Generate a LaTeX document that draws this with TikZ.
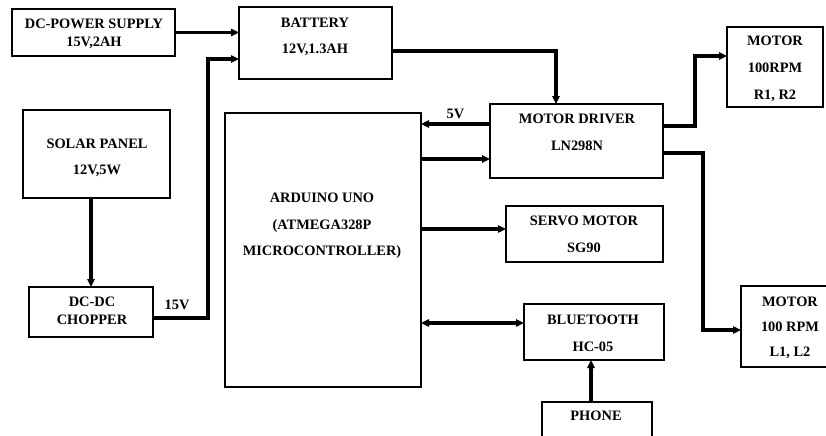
\documentclass[tikz,border=0pt]{standalone}
\usepackage{fontspec}
\setmainfont{Liberation Serif}
\usetikzlibrary{arrows.meta}
\begin{document}
\begin{tikzpicture}[x=0.75pt,y=-0.75pt,
  box/.style 2 args={draw, line width=1.9pt, inner sep=0pt, outer sep=0pt,
     minimum width=#1*0.75pt, minimum height=#2*0.75pt},
  txt/.style={align=center, inner sep=0pt, font=\fontsize{10.8}{20}\selectfont\bfseries},
  txts/.style={align=center, inner sep=0pt, font=\fontsize{10.8}{13.5}\selectfont\bfseries},
  arr/.style={line width=2.3pt, -{Triangle[length=6pt,width=5.5pt]}},
  darr/.style={line width=2.3pt, {Triangle[length=6pt,width=5.5pt]}-{Triangle[length=6pt,width=5.5pt]}}]
\useasboundingbox (0,0) rectangle (826,436);
\clip (0,0) rectangle (826,436);
% boxes
\node[box={163}{47}] (ps) at (93.5,32.5) {};
\node[box={153}{72}] (bat) at (315.5,43) {};
\node[box={173}{74}] (md) at (576.5,141) {};
\node[box={96}{80}] (motR) at (775,67) {};
\node[box={147}{88}] (solar) at (96.5,154) {};
\node[box={124}{50}] (chop) at (91,312) {};
\node[box={196}{274}] (ard) at (323,250) {};
\node[box={157}{56}] (servo) at (584.5,234) {};
\node[box={140}{56}] (bt) at (594,332) {};
\node[box={110}{60}] (phone) at (597,432) {};
\node[box={99}{81}] (motL) at (790.5,326.5) {};
% texts
\node[txts] (tps) at (94,34) {DC-POWER SUPPLY\\15V,2AH};
\node[txt] (tbat) at (315,37) {BATTERY\\12V,1.3AH};
\node[txt] (tmd) at (577,132) {MOTOR DRIVER\\LN298N};
\node[txt] (tmotR) at (775,69) {MOTOR\\100RPM\\R1, R2};
\node[txt] (tsolar) at (97,158) {SOLAR PANEL\\12V,5W};
\node[txts] (tchop) at (92,311) {DC-DC\\CHOPPER};
\node[txt] (tard) at (322,226) {ARDUINO UNO\\(ATMEGA328P\\MICROCONTROLLER)};
\node[txt] (tservo) at (584,234) {SERVO MOTOR\\SG90};
\node[txt] (tbt) at (593,333) {BLUETOOTH\\HC-05};
\node[txt] (tphone) at (596,416) {PHONE};
\node[txt,font=\fontsize{10.8}{18.75}\selectfont\bfseries] (tmotL) at (790,328) {MOTOR\\100 RPM\\L1, L2};
\node[txts] (t15) at (177,305) {15V};
% connectors
\draw[arr] (ps.east) -- (ps.east -| bat.west);
\coordinate (cb) at (208,59);
\draw[arr] ([shift={(0,6)}]chop.east) -| (cb) -- (cb -| bat.west);
\draw[arr] ([shift={(0,8)}]bat.east) -| ([shift={(-20.5,0)}]md.north);
\coordinate (m5) at ([shift={(0,-17)}]md.west);
\draw[arr] (m5) -- (m5 -| ard.east) node[midway, above=3pt, txts] (t5) {5V};
\coordinate (m6) at ([shift={(0,18)}]md.west);
\draw[arr] (m6 -| ard.east) -- (m6);
\draw[arr] ([shift={(0,-15)}]md.east) -- ++(32,0) |- ([shift={(0,-11)}]motR.west);
\draw[arr] ([shift={(0,12)}]md.east) -- ++(40,0) |- ([shift={(0,3.5)}]motL.west);
\coordinate (sv) at ([shift={(0,-5)}]servo.west);
\draw[arr] (sv -| ard.east) -- (sv);
\coordinate (bw) at ([shift={(0,-9)}]bt.west);
\draw[darr] (bw -| ard.east) -- (bw);
\coordinate (pn) at ([shift={(-6,0)}]phone.north);
\draw[arr] (pn) -- (pn |- bt.south);
\draw[arr] (solar.south -| chop.north) -- (chop.north);
\end{tikzpicture}
\end{document}
